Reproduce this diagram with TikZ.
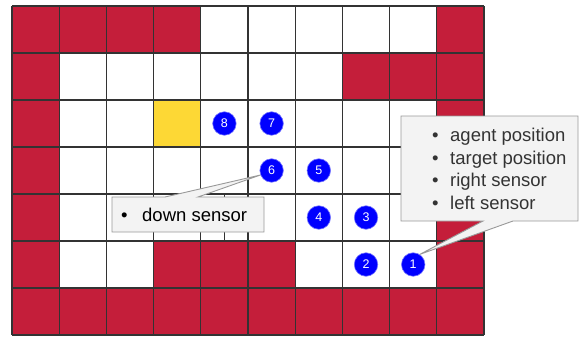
\documentclass[tikz,border=0pt]{standalone}
\usepackage{fontspec}
\setmainfont{Liberation Sans}
\usetikzlibrary{calc}
\definecolor{wallred}{RGB}{196,30,58}
\definecolor{goalyellow}{RGB}{253,216,53}
\definecolor{boxgray}{RGB}{243,243,243}
\begin{document}
\begin{tikzpicture}[x=1pt,y=-1pt,
  sensor/.style={circle,fill=blue,draw=blue!55!white,line width=.6pt,text=white,
    inner sep=0pt,minimum size=23.5pt,font=\fontsize{12.5}{14}\selectfont},
  balloon/.style={fill=boxgray,draw=black!40,line width=.9pt},
  listtext/.style={inner sep=0pt,align=left,font=\fontsize{18.5}{22.7}\selectfont}]
 \useasboundingbox (0,0) rectangle (580,337);
 % the world, in cells
 \begin{scope}[shift={(12,6)},x=47.2pt,y=-47pt]
  \foreach \col/\row in {0/0,1/0,2/0,3/0,9/0,0/1,7/1,8/1,9/1,0/2,9/2,0/3,9/3,0/4,9/4,
    0/5,3/5,4/5,5/5,9/5,0/6,1/6,2/6,3/6,4/6,5/6,6/6,7/6,8/6,9/6}
   \fill[wallred] (\col,\row) rectangle ++(1,1);
  \fill[goalyellow] (3,2) rectangle ++(1,1);
  \foreach \i in {0,...,10} \draw[black!80,line width=1.2pt] (\i,0) -- (\i,7);
  \foreach \j in {0,...,7} \draw[black!80,line width=1.2pt] (0,\j) -- (10,\j);
  \draw[black!80,line width=1.2pt] (4.5,4) -- (4.5,5);
  \node[sensor] (c1) at (8.5,5.5) {1};
  \node[sensor] (c2) at (7.5,5.5) {2};
  \node[sensor] (c3) at (7.5,4.5) {3};
  \node[sensor] (c4) at (6.5,4.5) {4};
  \node[sensor] (c5) at (6.5,3.5) {5};
  \node[sensor] (c6) at (5.5,3.5) {6};
  \node[sensor] (c7) at (5.5,2.5) {7};
  \node[sensor] (c8) at (4.5,2.5) {8};
 \end{scope}
 % callouts
 \coordinate (rNW) at (401,116);
 \coordinate (rSE) at (578,221);
 \draw[balloon] (rNW) -| (rSE) -- ($(rSE)+(-65,0)$) -- (c1.57)
   -- ($(rSE)+(-95,0)$) -- (rNW |- rSE) -- cycle;
 \node[listtext,text=black!80,anchor=west] (rlist) at (432,169)
   {\makebox[18pt][l]{\textbullet}agent position\\
    \makebox[18pt][l]{\textbullet}target position\\
    \makebox[18pt][l]{\textbullet}right sensor\\
    \makebox[18pt][l]{\textbullet}left sensor};
 \coordinate (dNW) at (112,197);
 \coordinate (dSE) at (264,232);
 \draw[balloon] (dNW) -- ($(dNW)+(53,0)$) -- (c6.202) -- ($(dNW)+(86,0)$)
   -| (dSE) -| (dNW) -- cycle;
 \node[listtext,anchor=west] (dlist) at (121,215)
   {\makebox[21pt][l]{\textbullet}down sensor};
\end{tikzpicture}
\end{document}
